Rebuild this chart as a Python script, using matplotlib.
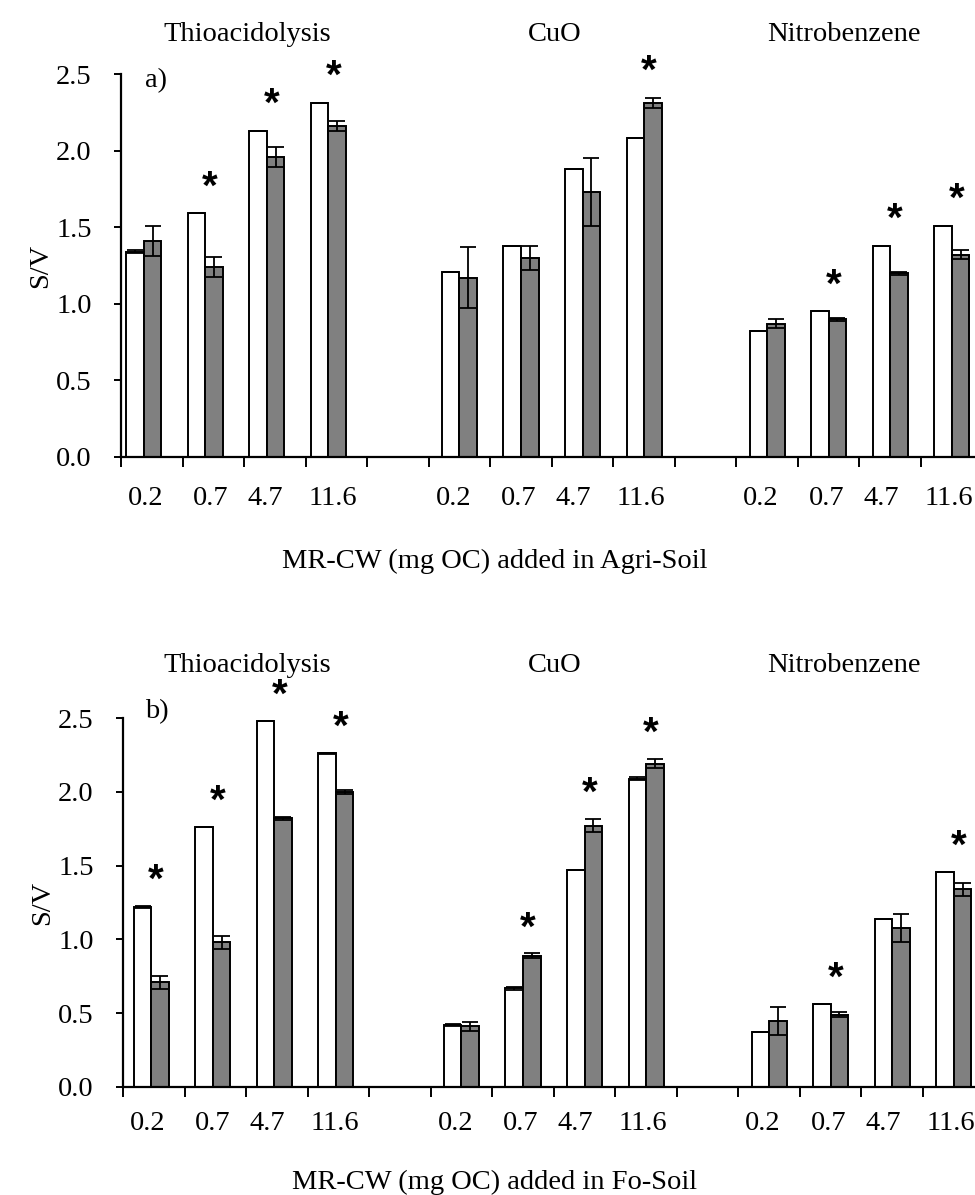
import numpy as np
import matplotlib
matplotlib.use('Agg')
import matplotlib.pyplot as plt

plt.rcParams['font.family'] = ['Liberation Serif', 'DejaVu Serif']

# Data
methods = ['Thioacidolysis', 'CuO', 'Nitrobenzene']
doses = ['0.2', '0.7', '4.7', '11.6']

# a) Agri-Soil
agri_white = [1.34, 1.59, 2.13, 2.31, 1.21, 1.38, 1.88, 2.08, 0.82, 0.95, 1.38, 1.51]
agri_white_err = [0.01, 0, 0, 0, 0, 0, 0, 0, 0, 0, 0, 0]
agri_gray = [1.41, 1.24, 1.96, 2.16, 1.17, 1.30, 1.73, 2.31, 0.87, 0.90, 1.20, 1.32]
agri_gray_err = [0.10, 0.065, 0.065, 0.03, 0.20, 0.08, 0.22, 0.035, 0.03, 0.01, 0.01, 0.03]
agri_sig = [0, 1, 1, 1, 0, 0, 0, 1, 0, 1, 1, 1]

# b) Fo-Soil
fo_white = [1.22, 1.76, 2.48, 2.26, 0.42, 0.67, 1.47, 2.09, 0.37, 0.56, 1.14, 1.46]
fo_white_err = [0.005, 0, 0, 0.005, 0.01, 0.01, 0, 0.01, 0, 0, 0, 0]
fo_gray = [0.71, 0.98, 1.82, 2.00, 0.41, 0.89, 1.77, 2.19, 0.45, 0.49, 1.08, 1.34]
fo_gray_err = [0.045, 0.045, 0.012, 0.015, 0.03, 0.015, 0.045, 0.03, 0.095, 0.015, 0.095, 0.043]
fo_sig = [1, 1, 1, 1, 0, 1, 1, 1, 0, 1, 0, 1]

W, H = 975, 1195
fig = plt.figure(figsize=(W / 100, H / 100), dpi=100)

fs = 20.5
bw = 0.285
label_shift = [-0.10, -0.04, -0.15, -0.05]


def px(x, y):
    return x / W, 1 - y / H


def panel(rect, white, white_err, gray, gray_err, sig, thio_shift, tag, xlabel,
          title_y, tag_y, xlab_y, label_pad):
    ax = fig.add_axes(rect)
    pos = []
    for g in range(3):
        shift = thio_shift if g == 0 else 0.0
        for j in range(4):
            pos.append(g * 5 + j + shift)
    pos = np.array(pos)

    ax.bar(pos - bw / 2, white, bw, color='white', edgecolor='black', linewidth=1.4, zorder=2)
    ax.bar(pos + bw / 2, gray, bw, color='#808080', edgecolor='black', linewidth=1.4, zorder=2)
    ax.errorbar(pos - bw / 2, white, yerr=white_err, fmt='none', ecolor='black',
                elinewidth=1.3, capsize=5.5, capthick=1.3, zorder=3)
    ax.errorbar(pos + bw / 2, gray, yerr=gray_err, fmt='none', ecolor='black',
                elinewidth=1.3, capsize=5.5, capthick=1.3, zorder=3)

    # significance stars
    for k in range(len(pos)):
        if sig[k]:
            top = max(white[k] + white_err[k], gray[k] + gray_err[k])
            ax.text(pos[k] + 0.08, top + 0.17, '*', ha='center', va='center',
                    fontsize=29, fontweight='bold', family='Liberation Sans',
                    clip_on=False)

    ax.set_xlim(-0.5, 13.5)
    ax.set_ylim(0, 2.5)
    ax.set_yticks(np.arange(0, 2.51, 0.5))
    ax.set_yticklabels(['%.1f' % v for v in np.arange(0, 2.51, 0.5)])
    ax.tick_params(axis='y', direction='out', length=5, width=1.4, pad=16, labelsize=fs)

    # category labels (no tick marks) and boundary ticks
    lab_pos = [g * 5 + j + label_shift[j] for g in range(3) for j in range(4)]
    ax.set_xticks(lab_pos)
    ax.set_xticklabels(doses * 3)
    ax.tick_params(axis='x', which='major', length=0, pad=label_pad, labelsize=fs)
    ax.set_xticks(np.arange(-0.5, 14, 1), minor=True)
    ax.tick_params(axis='x', which='minor', direction='out', length=7, width=1.4)

    for s in ['top', 'right']:
        ax.spines[s].set_visible(False)
    for s in ['left', 'bottom']:
        ax.spines[s].set_linewidth(1.6)

    ax.set_ylabel('S/V', fontsize=fs, labelpad=2)

    for name, xc in zip(methods, [247, 555, 844]):
        fig.text(*px(xc, title_y), name, ha='center', va='baseline', fontsize=fs)
    fig.text(*px(145, tag_y), tag, ha='left', va='baseline', fontsize=fs)
    fig.text(*px(495, xlab_y), xlabel, ha='center', va='center', fontsize=fs)
    return ax


panel([121 / W, 1 - 457 / H, 861.5 / W, 383 / H],
      agri_white, agri_white_err, agri_gray, agri_gray_err, agri_sig, -0.13,
      'a)', 'MR-CW (mg OC) added in Agri-Soil',
      title_y=41, tag_y=87, xlab_y=561, label_pad=21)

panel([123 / W, 1 - 1087 / H, 861.5 / W, 369 / H],
      fo_white, fo_white_err, fo_gray, fo_gray_err, fo_sig, -0.04,
      'b)', 'MR-CW (mg OC) added in Fo-Soil',
      title_y=672, tag_y=718, xlab_y=1182, label_pad=17)

fig.savefig('out.png', dpi=100)
